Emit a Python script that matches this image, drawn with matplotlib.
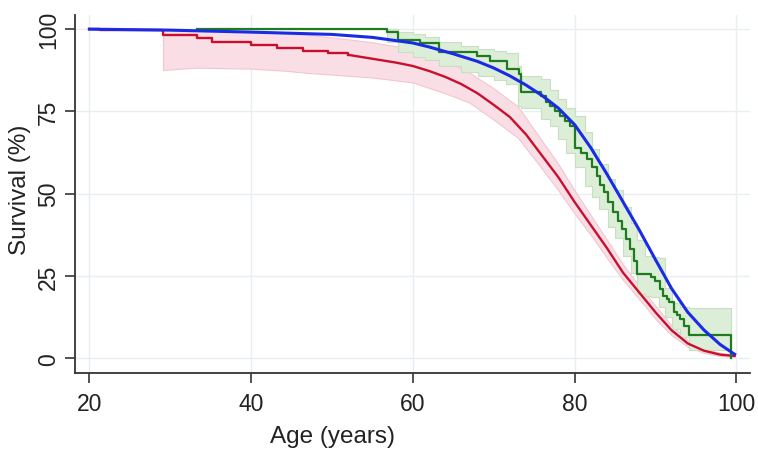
import matplotlib
matplotlib.use("Agg")
from matplotlib import pyplot as plt

# red: Kaplan-Meier, stepped early part then dense steps (drawn as line)
red_step_age = [20, 21.3, 29.1, 33.3, 35.2, 40.0, 43.2, 46.4, 49.5, 52.0]
red_step_surv = [100, 99.7, 98.2, 97.2, 96.1, 95.3, 94.3, 93.4, 92.9, 92.2]
red_age = [52, 55, 58, 60, 62, 64, 66, 68, 70, 72, 74, 76, 78, 80, 82, 84,
           86, 88, 90, 92, 94, 96, 98, 99.8]
red_surv = [92.2, 91.0, 89.8, 88.8, 87.3, 85.5, 83.3, 80.5, 77.0, 73.3, 68.0,
            61.5, 55.0, 47.5, 40.5, 33.5, 26.0, 20.0, 14.0, 8.5, 4.5, 2.3, 1.1, 0.7]
red_ci_age = [29.1, 33.3, 40, 44, 47, 50, 55, 60, 64, 67, 70, 73, 76, 78, 80,
              82, 84, 86, 88, 90, 92, 94, 96, 98, 99.8]
red_ci_upper = [99.8, 99.6, 99.2, 98.8, 98.3, 97.5, 96.0, 93.9, 90.6, 86.8, 82.0,
                76.5, 66.0, 59.0, 51.0, 43.5, 36.0, 28.5, 22.0, 16.0, 10.0, 5.5,
                3.0, 1.6, 1.0]
red_ci_lower = [87.6, 88.3, 88.0, 87.4, 86.7, 86.2, 85.3, 83.8, 80.5, 77.7, 72.5,
                67.0, 57.5, 51.0, 44.0, 37.5, 30.5, 23.8, 18.0, 12.0, 7.0, 3.5,
                1.6, 0.7, 0.4]

# green: Kaplan-Meier steps
green_age = [33.3, 56.8, 58.2, 60.9, 63.2, 67.9, 69.6, 71.6, 73.1, 73.4, 75.8,
             76.5, 77.0, 77.6, 78.2, 78.8, 79.5, 80.1, 80.8, 81.5, 82.1, 82.8,
             83.2, 83.6, 84.2, 84.8, 85.4, 85.9, 86.4, 86.9, 87.3, 87.7, 89.4,
             90.0, 90.6, 91.0, 91.4, 91.7, 92.3, 92.7, 93.1, 93.6, 94.1, 99.3]
green_surv = [100, 99.2, 96.7, 95.7, 93.0, 91.9, 90.4, 87.9, 86.3, 81.0, 79.7,
              78.0, 76.7, 75.2, 73.7, 72.2, 70.6, 64.0, 62.5, 60.5, 58.0, 55.5,
              52.5, 50.4, 47.5, 44.3, 41.8, 39.3, 36.2, 33.2, 29.5, 25.6, 24.6,
              23.6, 21.0, 19.0, 18.0, 17.0, 14.0, 13.0, 11.9, 9.9, 7.1, 0.0]
green_ci_age = [56.8, 58.2, 60.0, 61.5, 63.2, 66.0, 68.0, 70.0, 71.5, 73.0, 73.4,
                75.9, 77.0, 78.0, 79.0, 80.0, 81.3, 82.1, 83.0, 84.2, 85.0, 86.0,
                87.0, 87.7, 88.7, 89.4, 90.4, 91.2, 92.0, 93.1, 94.1, 99.3]
green_ci_upper = [100, 99.0, 98.5, 97.5, 96.0, 95.0, 94.0, 93.5, 92.9, 88.9, 85.8,
                  84.8, 81.5, 78.7, 76.0, 73.7, 68.6, 63.6, 59.0, 54.4, 51.0, 46.0,
                  41.0, 36.0, 31.0, 30.7, 30.4, 21.3, 16.7, 15.5, 15.2, 15.2]
green_ci_lower = [96.0, 93.0, 91.5, 90.5, 88.9, 87.0, 85.8, 84.5, 83.2, 76.7, 76.0,
                  72.7, 70.5, 66.6, 62.5, 58.0, 52.4, 49.0, 45.3, 40.0, 36.5, 31.0,
                  26.0, 19.5, 18.8, 18.5, 15.5, 12.5, 9.0, 6.5, 2.5, 2.5]

# blue: smooth expected survival
blue_age = [20, 30, 40, 50, 55, 60, 62, 65, 68, 70, 72, 74, 76, 78, 80, 82, 84,
            86, 88, 90, 92, 94, 96, 98, 99.8]
blue_surv = [100, 99.7, 99.1, 98.4, 97.5, 95.8, 94.6, 92.5, 90.2, 88.2, 85.8,
             83.0, 79.8, 76.0, 71.0, 64.0, 56.0, 47.5, 39.0, 30.0, 21.2, 14.0,
             8.6, 4.2, 1.2]

x_ticks = [20, 40, 60, 80, 100]
y_ticks = [0, 25, 50, 75, 100]

plt.rcParams['font.family'] = ['Liberation Sans', 'DejaVu Sans']

fig = plt.figure(figsize=(7.58, 4.52), dpi=100)
ax = fig.add_axes([0.0993, 0.1732, 0.8901, 0.7914])

ax.fill_between(red_ci_age, red_ci_lower, red_ci_upper, facecolor='#f9dfe5',
                edgecolor='#f1c6d1', linewidth=0.8, zorder=2)
ax.fill_between(green_ci_age, green_ci_lower, green_ci_upper, step='post',
                facecolor='#dcedd8', edgecolor='#c6e0c1', linewidth=0.8, zorder=2)

ax.plot(red_step_age, red_step_surv, drawstyle='steps-post', color='#c8102e',
        lw=1.7, zorder=3)
ax.plot(red_age, red_surv, color='#c8102e', lw=1.7, zorder=3)
ax.plot(green_age, green_surv, drawstyle='steps-post', color='#1e7b1e',
        lw=1.6, zorder=4)
ax.plot(blue_age, blue_surv, color='#1a2be6', lw=2.2, zorder=5)

ax.set_xlim(18.24, 101.7)
ax.set_ylim(-4.4, 104.3)
ax.set_xticks(x_ticks)
ax.set_yticks(y_ticks)
ax.grid(True, color='#e9eef1', lw=1.0, zorder=0)
ax.set_axisbelow(True)

for s in ['top', 'right']:
    ax.spines[s].set_visible(False)
for s in ['left', 'bottom']:
    ax.spines[s].set_color('#333333')
    ax.spines[s].set_linewidth(1.3)

ax.tick_params(axis='both', length=7, width=1.2, color='#333333',
               labelsize=16.5, labelcolor='#222222')
ax.tick_params(axis='x', pad=7)
ax.tick_params(axis='y', pad=4)
for lab in ax.get_yticklabels():
    lab.set_rotation(90)
    lab.set_va('center')

fig.text(0.439, 0.033, "Age (years)", fontsize=17.5, color='#222222',
         ha='center', va='center')
fig.text(0.026, 0.58, "Survival (%)", fontsize=17.5, color='#222222',
         ha='center', va='center', rotation=90)

fig.savefig("out.png", dpi=100)
